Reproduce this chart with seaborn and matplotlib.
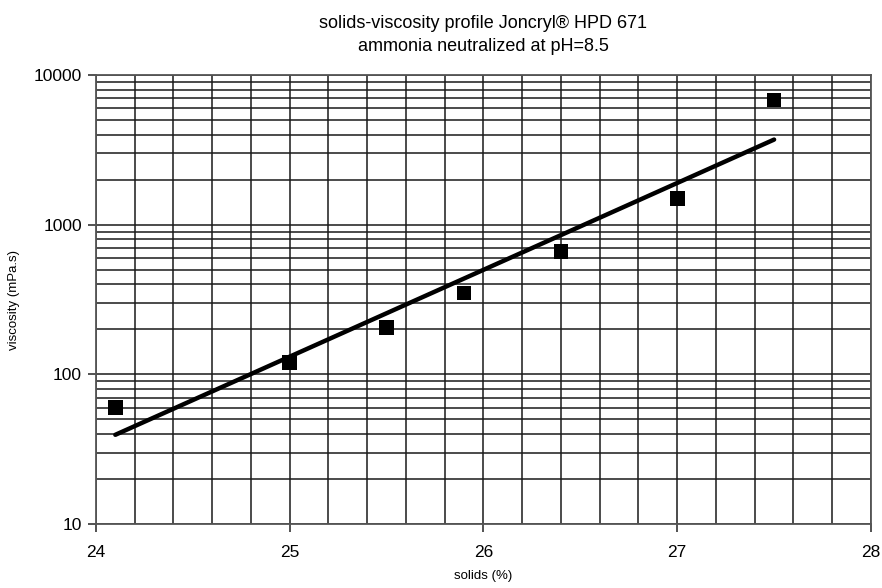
import numpy as np
import pandas as pd
import seaborn as sns
import matplotlib.pyplot as plt
from matplotlib.ticker import LogLocator, MultipleLocator, NullFormatter

# data
solids = [24.1, 25.0, 25.5, 25.9, 26.4, 27.0, 27.5]
viscosity = [60, 120, 205, 350, 660, 1500, 6800]
x_ticks = [24, 25, 26, 27, 28]
y_ticks = [10, 100, 1000, 10000]

df = pd.DataFrame({'solids': solids, 'viscosity': viscosity})

# exponential trendline (linear fit on log10)
slope, icpt = np.polyfit(df['solids'], np.log10(df['viscosity']), 1)
trend = pd.DataFrame({'solids': [min(solids), max(solids)]})
trend['viscosity'] = 10 ** (icpt + slope * trend['solids'])

sns.set_theme(style='ticks')
plt.rcParams['font.family'] = ['Liberation Sans', 'DejaVu Sans']
plt.rcParams['text.color'] = 'black'
plt.rcParams['axes.labelcolor'] = 'black'
plt.rcParams['xtick.labelcolor'] = 'black'
plt.rcParams['ytick.labelcolor'] = 'black'

fig = plt.figure(figsize=(8.82, 5.88), dpi=100)
ax = fig.add_axes([0.1088, 0.1088, 0.8787, 0.7636])

ax.set_yscale('log')
ax.set_xlim(24, 28)
ax.set_ylim(10, 10000)

# grid
ax.xaxis.set_minor_locator(MultipleLocator(0.2))
ax.yaxis.set_minor_locator(LogLocator(base=10, subs=np.arange(2, 10)))
ax.yaxis.set_minor_formatter(NullFormatter())
ax.grid(which='both', axis='both', color='#1a1a1a', linewidth=1.1)
ax.set_axisbelow(True)

sns.lineplot(data=trend, x='solids', y='viscosity', ax=ax, color='black', linewidth=3.2)
sns.scatterplot(data=df, x='solids', y='viscosity', ax=ax, marker='s', s=110,
                color='black', edgecolor='none', zorder=5)

ax.set_xticks(x_ticks)
ax.set_xticklabels([str(t) for t in x_ticks])
ax.set_yticks(y_ticks)
ax.set_yticklabels([str(t) for t in y_ticks])
ax.tick_params(axis='both', which='major', direction='out', length=6, width=1.2,
               color='#333333', labelsize=12.5, pad=9)
ax.tick_params(axis='both', which='minor', length=0)
ax.tick_params(axis='y', pad=4)

for sp in ax.spines.values():
    sp.set_color('#555555')
    sp.set_linewidth(1.3)

ax.set_xlabel('solids (%)', fontsize=9.5, labelpad=7)
ax.set_ylabel('viscosity (mPa.s)', fontsize=9.5, labelpad=10)
ax.set_title('solids-viscosity profile Joncryl® HPD 671\nammonia neutralized at pH=8.5',
             fontsize=13, linespacing=1.5, pad=17)

fig.savefig('out.png', dpi=100)
